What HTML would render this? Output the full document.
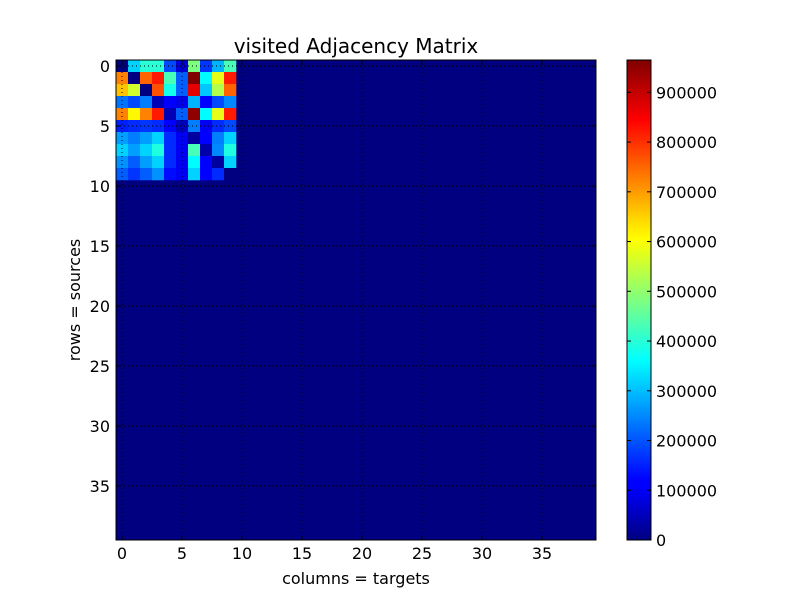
<!DOCTYPE html>
<html><head><meta charset="utf-8"><style>
body{margin:0;background:#fff;}
svg{display:block;font-family:"DejaVu Sans","Liberation Sans",sans-serif;}
</style></head><body>
<svg id="chart" width="800" height="600">
<defs><linearGradient id="jet" x1="0" y1="1" x2="0" y2="0">
<stop offset="0" stop-color="#000080"/><stop offset="0.11" stop-color="#0000ff"/>
<stop offset="0.125" stop-color="#0000ff"/><stop offset="0.34" stop-color="#00dcff"/>
<stop offset="0.375" stop-color="#00ffff"/><stop offset="0.5" stop-color="#7fff7f"/>
<stop offset="0.625" stop-color="#ffff00"/><stop offset="0.66" stop-color="#ffe000"/>
<stop offset="0.875" stop-color="#ff0000"/><stop offset="0.89" stop-color="#f00000"/>
<stop offset="1" stop-color="#800000"/></linearGradient></defs>
<text x="356" y="53" font-size="20" text-anchor="middle">visited Adjacency Matrix</text>
<g id="cells"></g><g id="grid"></g>
<rect x="116" y="60" width="480" height="480" fill="none" stroke="#000"/>
<g id="axes"></g>
<text x="356" y="584" font-size="16" text-anchor="middle">columns = targets</text>
<text transform="translate(80,300) rotate(-90)" font-size="16" text-anchor="middle">rows = sources</text>
<rect x="627" y="60" width="24" height="480" fill="url(#jet)" stroke="#000"/>
<g id="cbticks"></g>
</svg>
<script>
const N = 40;
const vmax = 965000;
const axisTicks = [0,5,10,15,20,25,30,35];
const cbTicks = [0,100000,200000,300000,400000,500000,600000,700000,800000,900000];
const matrix = [
[0,320000,400000,400000,190000,80000,480000,170000,290000,430000],
[720000,0,750000,820000,430000,210000,965000,360000,580000,820000],
[660000,560000,0,770000,380000,210000,870000,310000,530000,750000],
[230000,190000,240000,50000,120000,100000,290000,120000,190000,250000],
[720000,610000,720000,820000,50000,210000,950000,360000,580000,820000],
[150000,160000,170000,160000,120000,60000,240000,110000,160000,190000],
[270000,240000,270000,320000,160000,110000,30000,120000,240000,320000],
[320000,270000,320000,390000,160000,110000,430000,40000,250000,390000],
[260000,210000,270000,320000,160000,110000,360000,120000,30000,320000],
[210000,170000,210000,260000,130000,110000,320000,120000,160000,0]
];
const X0=116,Y0=60,S=480/N;
const cx=i=>X0+S*i, cy=i=>Y0+S*i;
const cbY=v=>540-480*v/vmax;
function jet(t){
  t=Math.max(0,Math.min(1,t));
  const f=x=>Math.max(0,Math.min(1,x));
  const r=f(1.5-Math.abs(4*t-3)), g=f(1.5-Math.abs(4*t-2)), b=f(1.5-Math.abs(4*t-1));
  return `rgb(${Math.round(r*255)},${Math.round(g*255)},${Math.round(b*255)})`;
}
const NS="http://www.w3.org/2000/svg";
function mk(tag,attrs,parent){const e=document.createElementNS(NS,tag);for(const k in attrs)e.setAttribute(k,attrs[k]);parent.appendChild(e);return e;}
const cells=document.getElementById('cells');
const bg=mk('rect',{x:X0,y:Y0,width:480,height:480,fill:jet(0)},cells);


matrix.forEach((row,r)=>row.forEach((v,c)=>{
  const e=mk('rect',{x:cx(c),y:cy(r),width:S+0.3,height:S+0.3,fill:jet(v/vmax)},cells);
  
  
}));
const grid=document.getElementById('grid'),axes=document.getElementById('axes');
axisTicks.forEach(t=>{
  const p=X0+S*(t+0.5), q=Y0+S*(t+0.5);
  const gv=mk('line',{x1:p,y1:60,x2:p,y2:540,stroke:'#000','stroke-dasharray':'1,3','stroke-width':1},grid);
  
  
  const gh=mk('line',{x1:116,y1:q,x2:596,y2:q,stroke:'#000','stroke-dasharray':'1,3','stroke-width':1},grid);
  
  
  mk('line',{x1:p,y1:540,x2:p,y2:536,stroke:'#000'},axes);
  mk('line',{x1:p,y1:60,x2:p,y2:64,stroke:'#000'},axes);
  mk('line',{x1:116,y1:q,x2:120,y2:q,stroke:'#000'},axes);
  mk('line',{x1:596,y1:q,x2:592,y2:q,stroke:'#000'},axes);
  const xl=mk('text',{x:p,y:559,'font-size':16,'text-anchor':'middle'},axes);xl.textContent=t;
  
  
  const yl=mk('text',{x:110,y:q+6,'font-size':16,'text-anchor':'end'},axes);yl.textContent=t;
  
  
});
const cb=document.getElementById('cbticks');
cbTicks.forEach(v=>{
  const y=cbY(v);
  mk('line',{x1:651,y1:y,x2:647,y2:y,stroke:'#000'},cb);
  mk('line',{x1:627,y1:y,x2:631,y2:y,stroke:'#000'},cb);
  const t=mk('text',{x:656,y:y+6,'font-size':16},cb);t.textContent=v;
  
  
});
</script>
</body></html>
